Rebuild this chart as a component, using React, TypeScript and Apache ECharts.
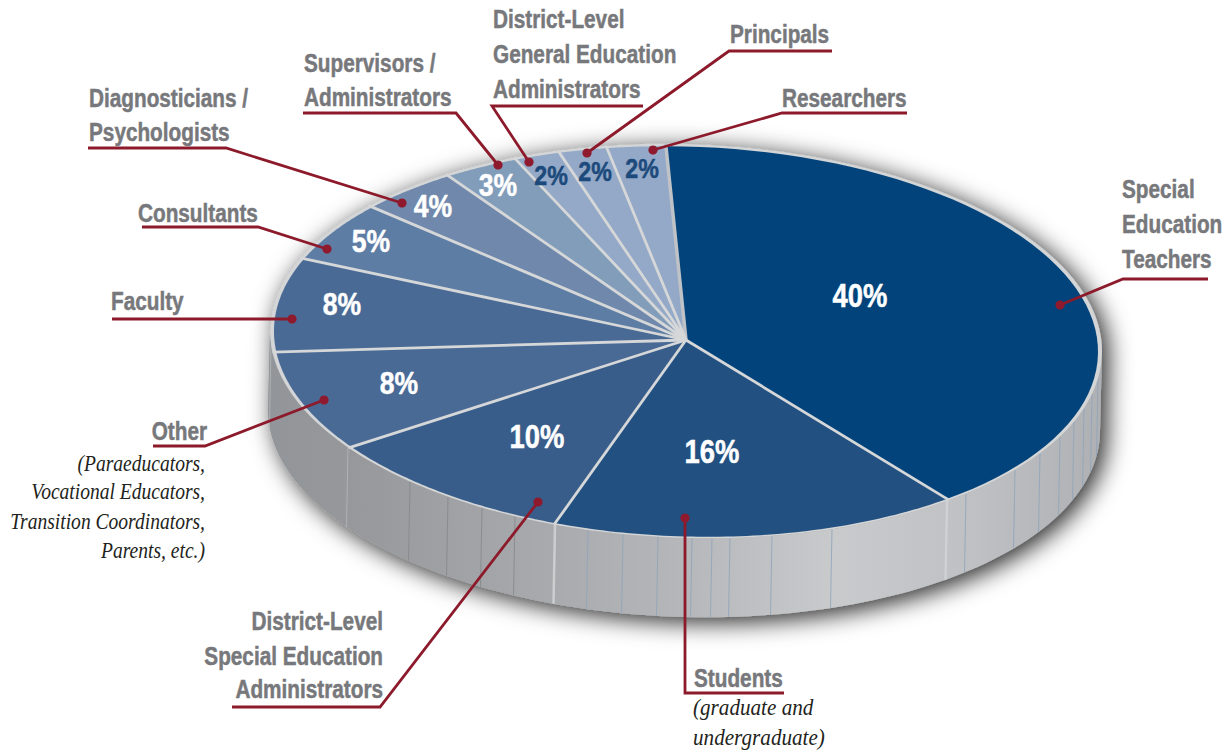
import React, { useEffect, useRef } from "react";
import * as echarts from "echarts";

// ---- data ----
const categories = [
  "Special Education Teachers",
  "Students",
  "District-Level Special Education Administrators",
  "Other",
  "Faculty",
  "Consultants",
  "Diagnosticians / Psychologists",
  "Supervisors / Administrators",
  "District-Level General Education Administrators",
  "Principals",
  "Researchers",
];
// printed (rounded) percentages
const shares = [40, 16, 10, 8, 8, 5, 4, 3, 2, 2, 2];
// slice sizes as drawn; each rounds to the printed figure
const drawnShares = [39.8, 16.0, 9.9, 8.2, 7.8, 5.1, 4.0, 3.0, 1.8, 1.9, 2.3];
const sliceColors = ["#01437a", "#225181", "#385d8a", "#4a6a96", "#4a6a96", "#5e7da5", "#7088ac", "#829db9", "#94a9c7", "#94a9c7", "#94a9c7"];
const shareTextColors = ["#fff", "#fff", "#fff", "#fff", "#fff", "#fff", "#fff", "#fff", "#1c4a7c", "#1c4a7c", "#1c4a7c"];

// ---- layout ----
const W = 1232, H = 752;
const FLAT = "'Liberation Sans', Arial, sans-serif";
const SERIF = "'Liberation Serif', serif";
const NARROW = 0.83;
const TILT = 0.025;
const TOP = { cx: 686, cy: 341.5, rx: 412, ry: 195 };
const RIM = { cx: 686, cy: 341, rx: 416, ry: 197 };
const BASE = { cx: 684, cy: 420, rx: 416, ry: 197 };
const APEX = [686, 340];
const START_DEG = -2.8;
const sharePoints = [[860, 296], [712, 452], [537, 437], [399, 383], [342, 304], [371, 241], [433, 206], [498, 185], [551, 175], [595, 171], [642, 168]];
const shareFontSizes = [33, 33, 33, 32, 32, 32, 32, 32, 28, 28, 28];
const wallSeams = [271, 348, 410, 448, 482, 515, 555, 588, 623, 658, 692, 712, 730, 772, 832, 947, 966, 1015, 1040, 1060, 1074, 1084, 1092, 1098];

const boldTexts: [string, number, number, string][] = [
  ["District-Level", 493, 28, "left"], ["General Education", 493, 63, "left"], ["Administrators", 493, 98, "left"],
  ["Principals", 730, 43, "left"],
  ["Researchers", 782, 107, "left"],
  ["Supervisors /", 304, 72, "left"], ["Administrators", 304, 106, "left"],
  ["Diagnosticians /", 89, 107, "left"], ["Psychologists", 89, 141, "left"],
  ["Consultants", 138, 222, "left"],
  ["Faculty", 111, 310, "left"],
  ["Other", 207, 440, "right"],
  ["District-Level", 383, 630, "right"], ["Special Education", 383, 665, "right"], ["Administrators", 383, 698, "right"],
  ["Students", 694, 687, "left"],
  ["Special", 1122, 198, "left"], ["Education", 1122, 233, "left"], ["Teachers", 1122, 268, "left"],
];
const italicTexts: [string, number, number, string, number][] = [
  ["(Paraeducators,", 205, 470, "right", 0.85], ["Vocational Educators,", 205, 498, "right", 0.85],
  ["Transition Coordinators,", 205, 527.5, "right", 0.85], ["Parents, etc.)", 205, 556.5, "right", 0.85],
  ["(graduate and", 693, 714, "left", 0.92], ["undergraduate)", 693, 744, "left", 0.92],
];
const leaders: number[][][] = [
  [[907, 113], [782, 113], [653, 150]],
  [[832, 51], [729, 51], [587, 153]],
  [[643, 106], [492, 106], [529, 162]],
  [[303, 113], [456, 113], [498, 165]],
  [[88, 148], [226, 148], [402, 203]],
  [[142, 227], [258, 227], [327, 249]],
  [[112, 319], [292, 319]],
  [[153, 446], [205, 446], [324, 400]],
  [[232, 707], [380, 707], [538, 502]],
  [[784, 693], [685, 693], [685, 518]],
  [[1208, 279], [1123, 279], [1060, 305]],
];

const LEADER = "#8c1a2b";

function onEllipse(e: typeof TOP, deg: number) {
  const t = (deg * Math.PI) / 180;
  const x = e.cx + e.rx * Math.sin(t);
  return [x, e.cy - e.ry * Math.cos(t) + TILT * (x - e.cx)];
}
function arc(e: typeof TOP, a: number, b: number, n = 120) {
  const pts: number[][] = [];
  for (let i = 0; i <= n; i++) pts.push(onEllipse(e, a + ((b - a) * i) / n));
  return pts;
}
function yOn(e: typeof TOP, x: number) {
  const u = Math.max(-1, Math.min(1, (x - e.cx) / e.rx));
  return e.cy + e.ry * Math.sqrt(1 - u * u) + TILT * (x - e.cx);
}

const total = drawnShares.reduce((a, b) => a + b, 0);
const cumulative: number[] = [];
drawnShares.reduce((acc, v) => { cumulative.push(acc); return acc + v; }, 0);
const toDeg = (s: number) => START_DEG + (s / total) * 360;

function renderBody() {
  const wallFill = new echarts.graphic.LinearGradient(0, 0, 1, 0, [
    { offset: 0, color: "#929599" },
    { offset: 0.1, color: "#96989b" },
    { offset: 0.34, color: "#a8aaad" },
    { offset: 0.5, color: "#b6b7ba" },
    { offset: 0.68, color: "#c9cacc" },
    { offset: 0.85, color: "#bfc0c3" },
    { offset: 1, color: "#aeb0b3" },
  ]);
  const silhouette = arc(RIM, -90, 90).concat(arc(BASE, 90, 270));
  const wall = arc(RIM, 90, 270).concat(arc(BASE, 270, 90));
  const children: any[] = [
    { type: "polygon", shape: { points: silhouette }, style: { fill: "#9a9b9d", shadowBlur: 24, shadowColor: "rgba(0,0,0,0.85)", shadowOffsetX: 6, shadowOffsetY: 5 } },
    { type: "polygon", shape: { points: wall }, style: { fill: wallFill } },
  ];
  wallSeams.forEach((x) => {
    const heavy = x === 555 || x === 947;
    const color = heavy ? "#d2d4d5" : x < 360 ? "#b4b6b9" : x < 540 ? "#86888c" : "#8fa5bb";
    children.push({
      type: "line",
      shape: { x1: x, y1: yOn(RIM, x), x2: x - 1.5, y2: yOn(BASE, x - 1.5) },
      style: { stroke: color, lineWidth: heavy ? 2.5 : 1, opacity: 0.85 },
    });
  });
  children.push({ type: "polygon", shape: { points: arc(RIM, 0, 360, 240) }, style: { fill: "#d3d5d6" } });
  return { type: "group", children };
}

function renderSlice(params: any, api: any) {
  const i = params.dataIndex;
  const a = toDeg(cumulative[i]);
  const b = toDeg(cumulative[i] + api.value(0));
  const edge = onEllipse(RIM, a);
  const [tx, ty] = sharePoints[i];
  return {
    type: "group",
    children: [
      { type: "polygon", shape: { points: [APEX].concat(arc(TOP, a, b, 60)) }, style: { fill: sliceColors[i] } },
      {
        type: "line",
        shape: { x1: APEX[0], y1: APEX[1], x2: edge[0], y2: edge[1] },
        style: { stroke: i === 0 ? "#bfc2c6" : "#d5d7d8", lineWidth: i === 0 ? 3.5 : 2.8 },
        z2: 5,
      },
      {
        type: "text",
        x: tx,
        y: ty,
        scaleX: NARROW,
        style: { text: api.value(1) + "%", x: 0, y: 0, fill: shareTextColors[i], stroke: shareTextColors[i], lineWidth: 0.5, font: `bold ${shareFontSizes[i]}px ${FLAT}`, align: "center", verticalAlign: "middle" },
        z2: 6,
      },
    ],
  };
}

export default function App() {
  const ref = useRef<HTMLDivElement>(null);
  useEffect(() => {
    document.body.style.margin = "0";
    const chart = echarts.init(ref.current!, undefined, { renderer: "svg" });
    const graphics: any[] = [];
    leaders.forEach((pts) => {
      const end = pts[pts.length - 1];
      graphics.push({ type: "polyline", z: 100, shape: { points: pts }, style: { stroke: LEADER, lineWidth: 2.8, fill: "none" } });
      graphics.push({ type: "circle", z: 101, shape: { cx: end[0], cy: end[1], r: 4.6 }, style: { fill: "#8f1a2e" } });
    });
    boldTexts.forEach(([text, x, y, align]) => {
      graphics.push({ type: "text", z: 102, x, y: y - 8.6, scaleX: NARROW, style: { text, x: 0, y: 0, fill: "#77787b", stroke: "#77787b", lineWidth: 0.5, font: `bold 25px ${FLAT}`, align, verticalAlign: "middle" } });
    });
    italicTexts.forEach(([text, x, y, align, sx]) => {
      graphics.push({ type: "text", z: 102, x, y: y - 6.5, scaleX: sx, style: { text, x: 0, y: 0, fill: "#231f20", font: `italic 23px ${SERIF}`, align, verticalAlign: "middle" } });
    });
    chart.setOption({
      animation: false,
      backgroundColor: "#ffffff",
      series: [
        { type: "custom", coordinateSystem: "none", z: 1, data: [0], silent: true, renderItem: renderBody },
        {
          type: "custom",
          coordinateSystem: "none",
          z: 2,
          silent: true,
          data: drawnShares.map((v, i) => ({ name: categories[i], value: [v, shares[i]] })),
          renderItem: renderSlice,
        },
      ],
      graphic: { elements: graphics },
    });
    return () => chart.dispose();
  }, []);
  return <div ref={ref} style={{ width: W, height: H }} />;
}
